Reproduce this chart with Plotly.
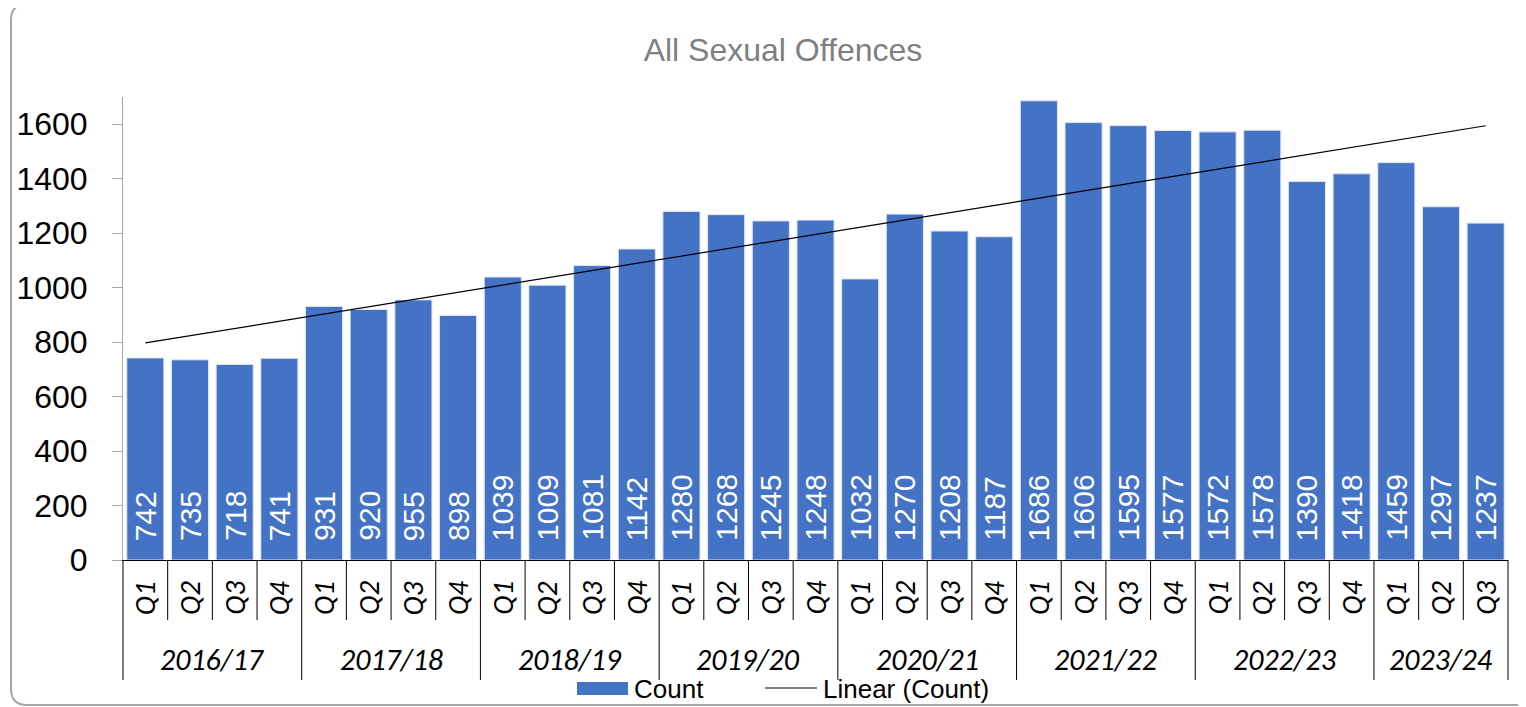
import numpy as np
import plotly.graph_objects as go

# ---------------- data ----------------
years = ["2016/17", "2017/18", "2018/19", "2019/20", "2020/21", "2021/22", "2022/23", "2023/24"]
quarters_per_year = [4, 4, 4, 4, 4, 4, 4, 3]
quarter_names = ["Q1", "Q2", "Q3", "Q4"]
counts = [742, 735, 718, 741,
          931, 920, 955, 898,
          1039, 1009, 1081, 1142,
          1280, 1268, 1245, 1248,
          1032, 1270, 1208, 1187,
          1686, 1606, 1595, 1577,
          1572, 1578, 1390, 1418,
          1459, 1297, 1237]
y_ticks = [0, 200, 400, 600, 800, 1000, 1200, 1400, 1600]
title_text = "All Sexual Offences"
series_name = "Count"
trend_name = "Linear (Count)"

# ---------------- layout geometry ----------------
# the page body adds an 8px margin, so the figure is shifted by OFF
OFF = 8
W, H = 1526 - OFF, 707 - OFF
ML, MR, MT, MB = 123 - OFF, 18, 97 - OFF, 147
PW, PH = W - ML - MR, H - MT - MB


def xp(px):  # screen px -> paper
    return (px - OFF - ML) / PW


def yp(py):  # screen px -> paper
    return (H - MB - (py - OFF)) / PH


BAR_COLOR = "#4472C4"
FONT_MAIN = "Liberation Sans, Arial, sans-serif"
FONT_CAT = "Carlito, Lato, Calibri, sans-serif"

n = len(counts)
idx = np.arange(n)
q_labels = [quarter_names[j] for k in quarters_per_year for j in range(k)]

# linear trend (least squares)
coef = np.polyfit(idx, counts, 1)
trend = np.polyval(coef, idx)

fig = go.Figure()
fig.add_trace(go.Bar(
    x=idx, y=counts, name=series_name, width=0.83,
    marker=dict(color=BAR_COLOR, line=dict(color="#dfe6f3", width=1)),
    showlegend=False, hoverinfo="x+y",
))
fig.add_trace(go.Scatter(
    x=idx, y=trend, mode="lines", name=trend_name,
    line=dict(color="#000000", width=1.2), showlegend=False,
))

annotations = []
# data labels inside bars (rotated)
for i, v in enumerate(counts):
    annotations.append(dict(
        x=i, y=0, xref="x", yref="y", text=str(v), showarrow=False,
        textangle=-90, yanchor="bottom", xanchor="center", yshift=17,
        font=dict(family=FONT_MAIN, size=30, color="white"),
    ))

# quarter labels
for i, q in enumerate(q_labels):
    annotations.append(dict(
        x=i, y=yp(598), xref="x", yref="paper", text=q, showarrow=False,
        textangle=-90, xanchor="center", yanchor="middle",
        font=dict(family=FONT_CAT, size=29, color="black", style="italic"),
    ))

# year labels
start = 0
bounds = [0]
for yr, k in zip(years, quarters_per_year):
    annotations.append(dict(
        x=start + (k - 1) / 2, y=yp(659), xref="x", yref="paper", text=yr,
        showarrow=False, xanchor="center", yanchor="middle", borderpad=0,
        font=dict(family=FONT_CAT, size=30, color="black", style="italic"),
    ))
    start += k
    bounds.append(start)

# legend text
annotations.append(dict(x=xp(633), y=yp(689), xref="paper", yref="paper", text=series_name,
                        showarrow=False, xanchor="left", yanchor="middle", borderpad=0,
                        font=dict(family=FONT_MAIN, size=26, color="black")))
annotations.append(dict(x=xp(822), y=yp(689), xref="paper", yref="paper", text=trend_name,
                        showarrow=False, xanchor="left", yanchor="middle", borderpad=0,
                        font=dict(family=FONT_MAIN, size=26, color="black")))

shapes = []
# category dividers
for k in range(n + 1):
    bottom = 680 if k in bounds else 620
    shapes.append(dict(type="line", xref="paper", yref="paper",
                       x0=k / n, x1=k / n, y0=yp(560), y1=yp(bottom),
                       line=dict(color="black", width=1)))
# legend symbols
shapes.append(dict(type="rect", xref="paper", yref="paper",
                   x0=xp(577), x1=xp(628), y0=yp(682), y1=yp(695),
                   fillcolor=BAR_COLOR, line=dict(width=0)))
shapes.append(dict(type="line", xref="paper", yref="paper",
                   x0=xp(765), x1=xp(817), y0=yp(688), y1=yp(688),
                   line=dict(color="black", width=1.2)))
# rounded outer border
bl, bt, bb, br, r = 11, 4, 705, 1560, 16
path = (f"M {xp(bl)},{yp(bt + r)} Q {xp(bl)},{yp(bt)} {xp(bl + r)},{yp(bt)} "
        f"L {xp(br)},{yp(bt)} L {xp(br)},{yp(bb)} L {xp(bl + r)},{yp(bb)} "
        f"Q {xp(bl)},{yp(bb)} {xp(bl)},{yp(bb - r)} Z")
shapes.append(dict(type="path", xref="paper", yref="paper", path=path,
                   line=dict(color="#a6a6a6", width=2), layer="below"))

fig.update_layout(
    width=W, height=H,
    margin=dict(l=ML, r=MR, t=MT, b=MB, pad=0, autoexpand=False),
    paper_bgcolor="white", plot_bgcolor="white",
    title=dict(text=title_text, x=xp(783), xref="paper", xanchor="center",
               y=1 - (50 - OFF) / H, yref="container", yanchor="middle",
               font=dict(family=FONT_MAIN, size=32, color="#7f7f7f")),
    xaxis=dict(range=[-0.5, n - 0.5], showticklabels=False, ticks="",
               showline=True, linecolor="black", linewidth=1, automargin=False,
               showgrid=False, zeroline=False, fixedrange=True),
    yaxis=dict(range=[0, 1700], tickvals=y_ticks, ticks="outside", ticklen=10,
               tickcolor="#a6a6a6", showline=True, linecolor="#a6a6a6", linewidth=1,
               showgrid=False, zeroline=False, ticklabelstandoff=18, automargin=False,
               tickfont=dict(family=FONT_MAIN, size=32, color="black"),
               fixedrange=True),
    showlegend=False,
    annotations=annotations, shapes=shapes,
)

fig.write_html("out.html")
